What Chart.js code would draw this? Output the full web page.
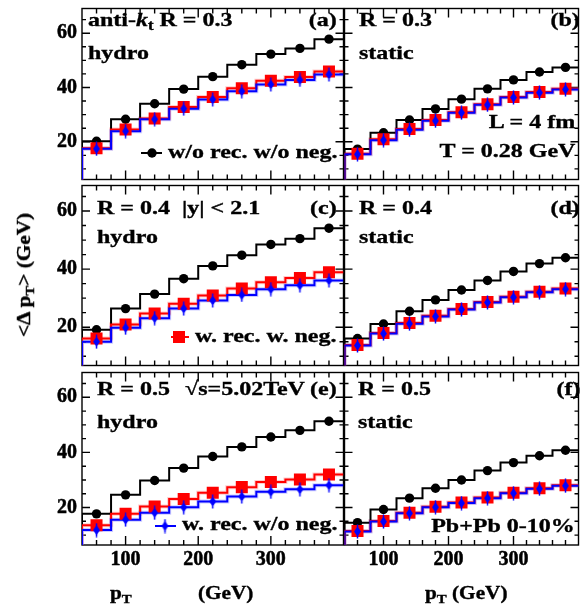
<!DOCTYPE html>
<html>
<head>
<meta charset="utf-8">
<script src="https://cdn.jsdelivr.net/npm/chart.js@4.4.0/dist/chart.umd.min.js"></script>
<style>
    body { margin: 0; width: 587px; height: 612px; overflow: hidden; background: #fff; position: relative;
           font-family: "Liberation Serif", "Times New Roman", serif; font-weight: bold; color: #000; }
    canvas { position: absolute; }
    .lbl { position: absolute; white-space: pre; -webkit-text-stroke: 0.35px #000; }
    .lbl sub, .ytitle sub { font-size: 0.7em; vertical-align: baseline; position: relative; top: 0.32em; }
    .ytitle { position: absolute; font-size: 18px; line-height: 18px; white-space: pre; -webkit-text-stroke: 0.35px #000;
              transform: translate(-50%, -50%) rotate(-90deg) scaleX(1.18); }
</style>
</head>
<body>
<script>
// pT binning (GeV)
const ptEdges = [40, 80, 120, 160, 200, 240, 280, 320, 360, 400];
const ptCenters = [60, 100, 140, 180, 220, 260, 300, 340, 380];

// axis ticks
const xMajorTicks = [100, 200, 300];
const xMinorTicks = [60, 80, 100, 120, 140, 160, 180, 200, 220, 240, 260, 280, 300, 320, 340, 360, 380];
const yMajorTicks = [20, 40, 60];
const yMinorTicks = [10, 15, 20, 25, 30, 35, 40, 45, 50, 55, 60, 65];
const yRanges = [[6.1, 69.1], [6.8, 68.8], [6.4, 69.0]];

// <Δ pT> (GeV): w/o rec. w/o neg. | w. rec. w. neg. | w. rec. w/o neg.
const hydroR03NoRec    = [20.2, 28.3, 34.0, 39.4, 44.0, 48.4, 52.3, 54.4, 57.8];
const hydroR03RecNeg   = [17.6, 24.5, 28.6, 32.8, 36.5, 39.7, 42.5, 43.9, 45.9];
const hydroR03RecNoNeg = [17.4, 23.9, 28.3, 32.2, 35.6, 38.6, 41.1, 42.8, 44.8];

const staticR03NoRec    = [17.3, 23.3, 28.0, 32.1, 35.7, 39.5, 42.8, 45.7, 47.4];
const staticR03RecNeg   = [15.6, 20.9, 24.7, 28.0, 30.9, 33.8, 36.5, 38.3, 39.5];
const staticR03RecNoNeg = [15.4, 20.6, 24.4, 27.7, 30.7, 33.6, 36.3, 38.1, 39.3];

const hydroR04NoRec    = [19.1, 26.4, 31.4, 36.7, 41.1, 44.8, 48.5, 50.5, 54.1];
const hydroR04RecNeg   = [16.1, 20.9, 24.7, 28.1, 30.9, 33.3, 35.5, 36.9, 38.9];
const hydroR04RecNoNeg = [15.0, 19.8, 23.1, 26.4, 29.2, 31.1, 33.1, 34.4, 36.1];

const staticR04NoRec    = [16.1, 21.1, 25.5, 29.4, 32.8, 36.1, 39.2, 41.9, 43.9];
const staticR04RecNeg   = [13.9, 18.0, 21.4, 23.9, 26.3, 28.7, 30.5, 32.2, 33.3];
const staticR04RecNoNeg = [13.7, 17.8, 21.2, 23.7, 26.1, 28.5, 30.3, 32.0, 33.1];

const hydroR05NoRec    = [17.7, 24.6, 29.8, 34.3, 38.5, 42.0, 45.6, 48.0, 51.3];
const hydroR05RecNeg   = [13.6, 17.7, 20.4, 23.1, 25.4, 27.4, 29.3, 30.2, 32.0];
const hydroR05RecNoNeg = [11.8, 15.6, 18.1, 20.1, 22.2, 24.0, 25.7, 26.6, 28.1];

const staticR05NoRec    = [14.5, 19.3, 23.4, 27.0, 30.0, 33.4, 36.3, 38.8, 40.8];
const staticR05RecNeg   = [11.5, 15.1, 18.1, 20.3, 21.8, 23.6, 25.4, 27.0, 28.1];
const staticR05RecNoNeg = [11.3, 14.9, 17.9, 20.1, 21.6, 23.4, 25.2, 26.8, 27.9];

const panels = [
    { col: 0, row: 0, series: [hydroR03NoRec, hydroR03RecNeg, hydroR03RecNoNeg], legend: { which: 0, x1: 141, x2: 162, cx: 152, cy: 153 } },
    { col: 1, row: 0, series: [staticR03NoRec, staticR03RecNeg, staticR03RecNoNeg] },
    { col: 0, row: 1, series: [hydroR04NoRec, hydroR04RecNeg, hydroR04RecNoNeg], legend: { which: 1, x1: 171, x2: 189, cx: 179, cy: 337 } },
    { col: 1, row: 1, series: [staticR04NoRec, staticR04RecNeg, staticR04RecNoNeg] },
    { col: 0, row: 2, series: [hydroR05NoRec, hydroR05RecNeg, hydroR05RecNoNeg], legend: { which: 2, x1: 155, x2: 176, cx: 165, cy: 526 } },
    { col: 1, row: 2, series: [staticR05NoRec, staticR05RecNeg, staticR05RecNoNeg] }
];

const colGeom = [
    { left: 30, width: 322, padLeft: 0, padRight: 8 },
    { left: 336, width: 251, padLeft: 8, padRight: 2 }
];
const rowGeom = [
    { top: 0, height: 188, padTop: 5, padBottom: 5.5 },
    { top: 177, height: 197, padTop: 5.5, padBottom: 5 },
    { top: 364, height: 216, padTop: 5, padBottom: 0 }
];

const colors = ['#000000', '#ff0000', '#0000ff'];
const bandColors = [null, 'rgba(255,90,90,0.3)', 'rgba(90,90,255,0.3)'];
const tickFont = { family: '"Liberation Serif", "Times New Roman", serif', weight: 'bold', size: 20 };

function diamondImage() {
    const c = document.createElement('canvas');
    c.width = 9; c.height = 15;
    const g = c.getContext('2d');
    g.strokeStyle = '#0000ff';
    g.fillStyle = '#0000ff';
    g.lineWidth = 1.5;
    g.beginPath(); g.moveTo(4.5, 0.5); g.lineTo(4.5, 14.5); g.stroke();
    g.beginPath();
    g.moveTo(4.5, 2.5); g.lineTo(8, 7.5); g.lineTo(4.5, 12.5); g.lineTo(1, 7.5);
    g.closePath(); g.fill();
    return c;
}
const diamond = diamondImage();
const markerStyles = [
    { pointStyle: 'circle', pointRadius: 4.7 },
    { pointStyle: 'rect', pointRadius: 8.5 },
    { pointStyle: diamond, pointRadius: 5 }
];

function stepPoints(vals) {
    const pts = [{ x: ptEdges[0], y: 0 }];
    vals.forEach((v, i) => pts.push({ x: ptEdges[i + 1], y: v }));
    return pts;
}

function markerPoints(vals) {
    return ptCenters.map((c, i) => ({ x: c, y: vals[i] }));
}

// frame with inward ticks on all four sides
const frameTicks = {
    id: 'frameTicks',
    beforeDatasetsDraw(chart) {
        const { ctx, chartArea: a, scales: { x, y } } = chart;
        ctx.save();
        ctx.strokeStyle = '#000';
        ctx.lineWidth = 1.4;
        ctx.strokeRect(a.left, a.top, a.right - a.left, a.bottom - a.top);
        ctx.beginPath();
        xMinorTicks.forEach(v => {
            const px = x.getPixelForValue(v);
            const len = xMajorTicks.includes(v) ? 9 : 5;
            ctx.moveTo(px, a.bottom); ctx.lineTo(px, a.bottom - len);
            ctx.moveTo(px, a.top); ctx.lineTo(px, a.top + len);
        });
        yMinorTicks.forEach(v => {
            const py = y.getPixelForValue(v);
            if (py < a.top || py > a.bottom) return;
            const len = yMajorTicks.includes(v) ? 8 : 4;
            ctx.moveTo(a.left, py); ctx.lineTo(a.left + len, py);
            ctx.moveTo(a.right, py); ctx.lineTo(a.right - len, py);
        });
        ctx.stroke();
        ctx.restore();
    }
};

// legend sample: line + marker
const legendSample = {
    id: 'legendSample',
    afterDatasetsDraw(chart, args, opts) {
        if (!opts || opts.which === undefined) return;
        const { ctx } = chart;
        const ox = opts.offX, oy = opts.offY;
        const k = opts.which;
        ctx.save();
        ctx.strokeStyle = colors[k];
        ctx.lineWidth = 2;
        ctx.beginPath();
        ctx.moveTo(opts.x1 - ox, opts.cy - oy);
        ctx.lineTo(opts.x2 - ox, opts.cy - oy);
        ctx.stroke();
        const cx = opts.cx - ox, cy = opts.cy - oy;
        ctx.fillStyle = colors[k];
        if (k === 0) {
            ctx.beginPath(); ctx.arc(cx, cy, 4.7, 0, Math.PI * 2); ctx.fill();
        } else if (k === 1) {
            ctx.fillRect(cx - 6, cy - 6, 12, 12);
        } else {
            ctx.drawImage(diamond, cx - diamond.width / 2, cy - diamond.height / 2);
        }
        ctx.restore();
    }
};

panels.forEach(p => {
    const cg = colGeom[p.col];
    const rg = rowGeom[p.row];
    const showX = p.row === 2;
    const showY = p.col === 0;
    const canvas = document.createElement('canvas');
    canvas.width = cg.width;
    canvas.height = rg.height;
    canvas.style.left = cg.left + 'px';
    canvas.style.top = rg.top + 'px';
    document.body.appendChild(canvas);

    const datasets = [];
    p.series.forEach((vals, k) => {
        if (bandColors[k]) {
            datasets.push({
                data: stepPoints(vals), showLine: true, stepped: 'after',
                borderColor: bandColors[k], borderWidth: 4, pointRadius: 0, order: 10 - k
            });
        }
    });
    p.series.forEach((vals, k) => {
        datasets.push({
            data: stepPoints(vals), showLine: true, stepped: 'after',
            borderColor: colors[k], borderWidth: 2, pointRadius: 0, order: 7 - k
        });
    });
    p.series.forEach((vals, k) => {
        datasets.push(Object.assign({
            data: markerPoints(vals), showLine: false,
            pointBackgroundColor: colors[k], pointBorderWidth: 0, order: 2 - k
        }, markerStyles[k]));
    });

    const legendOpts = p.legend ? Object.assign({ offX: cg.left, offY: rg.top }, p.legend) : {};

    new Chart(canvas, {
        type: 'scatter',
        data: { datasets },
        options: {
            responsive: false,
            animation: false,
            events: [],
            layout: { padding: { left: cg.padLeft, right: cg.padRight, top: rg.padTop, bottom: rg.padBottom } },
            plugins: { legend: { display: false }, tooltip: { enabled: false }, legendSample: legendOpts },
            scales: {
                x: {
                    type: 'linear', min: ptEdges[0], max: ptEdges[ptEdges.length - 1],
                    display: showX,
                    afterBuildTicks: s => { s.ticks = xMajorTicks.map(v => ({ value: v })); },
                    afterFit: s => {
                        s.height = showX ? 35 : 0;
                        s.paddingLeft = 0; s.paddingRight = 0; s.paddingTop = 0; s.paddingBottom = 0;
                    },
                    grid: { display: false, drawTicks: false },
                    border: { display: false },
                    ticks: { font: tickFont, color: '#000', padding: 3, maxRotation: 0, minRotation: 0, autoSkip: false,
                             textStrokeColor: '#000', textStrokeWidth: 0.5 }
                },
                y: {
                    type: 'linear', min: yRanges[p.row][0], max: yRanges[p.row][1],
                    display: showY,
                    afterBuildTicks: s => { s.ticks = yMajorTicks.map(v => ({ value: v })); },
                    afterFit: s => {
                        s.width = showY ? 52 : 0;
                        s.paddingTop = 0; s.paddingBottom = 0; s.paddingLeft = 0; s.paddingRight = 0;
                    },
                    grid: { display: false, drawTicks: false },
                    border: { display: false },
                    ticks: { font: tickFont, color: '#000', padding: 5, textStrokeColor: '#000', textStrokeWidth: 0.5 }
                }
            }
        },
        plugins: [frameTicks, legendSample]
    });
});

// annotation text: wide bold serif, positioned by its baseline
function addText(html, x, baseline, align, size, stretch) {
    size = size || 19.5;
    stretch = stretch || 1.23;
    const d = document.createElement('div');
    d.className = 'lbl';
    d.innerHTML = html;
    d.style.fontSize = size + 'px';
    d.style.lineHeight = size + 'px';
    d.style.top = (baseline - size * 0.8375) + 'px';
    d.style.transform = 'scaleX(' + stretch + ')';
    if (align === 'right') {
        d.style.right = (587 - x) + 'px';
        d.style.transformOrigin = 'right center';
    } else {
        d.style.left = x + 'px';
        d.style.transformOrigin = 'left center';
    }
    document.body.appendChild(d);
}

// panel (a)
addText('anti-<i>k</i><sub>t</sub> R = 0.3', 88, 26);
addText('hydro', 88, 59);
addText('(a)', 337, 26, 'right');
addText('w/o rec. w/o neg.', 168, 158);
// panel (b)
addText('R = 0.3', 359, 26);
addText('static', 359, 59);
addText('(b)', 580, 26, 'right');
addText('L = 4 fm', 575, 128, 'right');
addText('T = 0.28 GeV', 575, 157, 'right');
// panel (c)
addText('R = 0.4  |y| &lt; 2.1', 97, 214);
addText('hydro', 97, 243);
addText('(c)', 337, 214, 'right');
addText('w. rec. w. neg.', 195, 342);
// panel (d)
addText('R = 0.4', 359, 214);
addText('static', 359, 243);
addText('(d)', 580, 214, 'right');
// panel (e)
addText('R = 0.5', 97, 395);
addText('√s=5.02TeV', 185, 395);
addText('(e)', 337, 395, 'right');
addText('hydro', 97, 428);
addText('w. rec. w/o neg.', 182, 530);
// panel (f)
addText('R = 0.5', 358, 395);
addText('static', 358, 428);
addText('(f)', 580, 395, 'right');
addText('Pb+Pb 0-10%', 575, 532, 'right');

// axis titles
addText('p<sub>T</sub>', 110, 599, 'left', 18, 1.18);
addText('(GeV)', 198, 599, 'left', 18, 1.18);
addText('p<sub>T</sub> (GeV)', 425, 599, 'left', 18, 1.18);

const yTitle = document.createElement('div');
yTitle.className = 'ytitle';
yTitle.innerHTML = '&lt;&Delta; p<sub>T</sub>&gt; (GeV)';
yTitle.style.left = '25px';
yTitle.style.top = '275px';
document.body.appendChild(yTitle);
</script>
</body>
</html>
